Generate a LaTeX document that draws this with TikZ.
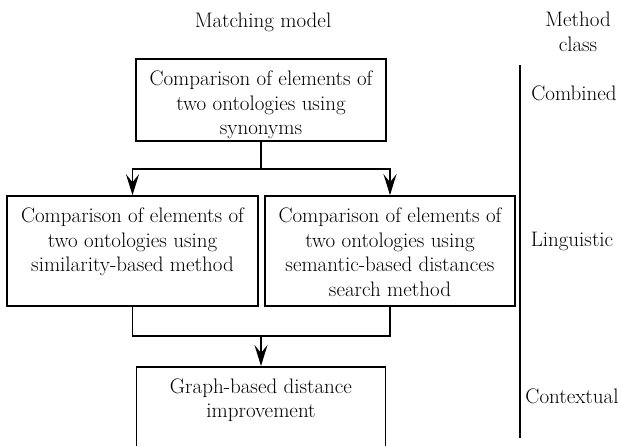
\documentclass[tikz,border=0pt]{standalone}
\usepackage{fontspec}
\usetikzlibrary{arrows.meta}
\newcommand{\boxcontent}[3]{\parbox[c][#2][t]{#1}{\centering\vspace*{12pt}#3\par}}
\begin{document}
\begin{tikzpicture}[x=1pt,y=-1pt,
  font=\fontsize{21}{24.5}\selectfont,
  line width=1.6pt,
  boxnode/.style={draw, inner sep=0pt, line width=1.6pt},
  lbl/.style={inner sep=0pt, align=center},
  flow/.style={-{Stealth[length=21pt,width=13pt,inset=8pt]}}]
\useasboundingbox (0,0) rectangle (621,445);
\clip (0,0) rectangle (621,445);
\node[boxnode] (top) at (261,100) {\boxcontent{250pt}{82pt}{Comparison of elements of\\two ontologies using\\synonyms}};
\node[boxnode] (left) at (132.5,251) {\boxcontent{251pt}{110pt}{Comparison of elements of\\two ontologies using\\similarity-based method}};
\node[boxnode] (right) at (390,251) {\boxcontent{250pt}{110pt}{Comparison of elements of\\two ontologies using\\semantic-based distances\\search method}};
\node[boxnode, anchor=north] (bottom) at (261,366) {\boxcontent{249pt}{100pt}{Graph-based distance\\improvement}};
\draw[flow] (top.south) -- ++(0,27) -| (left.north);
\draw[flow] (top.south) -- ++(0,27) -| (right.north);
\draw (left.south) -- ++(0,29) coordinate (jl) -| (right.south);
\coordinate (jm) at (bottom.north |- jl);
\draw[flow] (jm) -- (bottom.north);
\coordinate (rt) at (520,65);
\coordinate (rb) at (520,438);
\draw (rt) -- (rb);
\node[lbl] (mm) at (263,22) {Matching model};
\node[lbl] (mc) at (578,32) {Method\\class};
\node[lbl] (comb) at (574,93) {Combined};
\node[lbl] (ling) at (572,241) {Linguistic};
\node[lbl] (cont) at (572,396) {Contextual};
\end{tikzpicture}
\end{document}
